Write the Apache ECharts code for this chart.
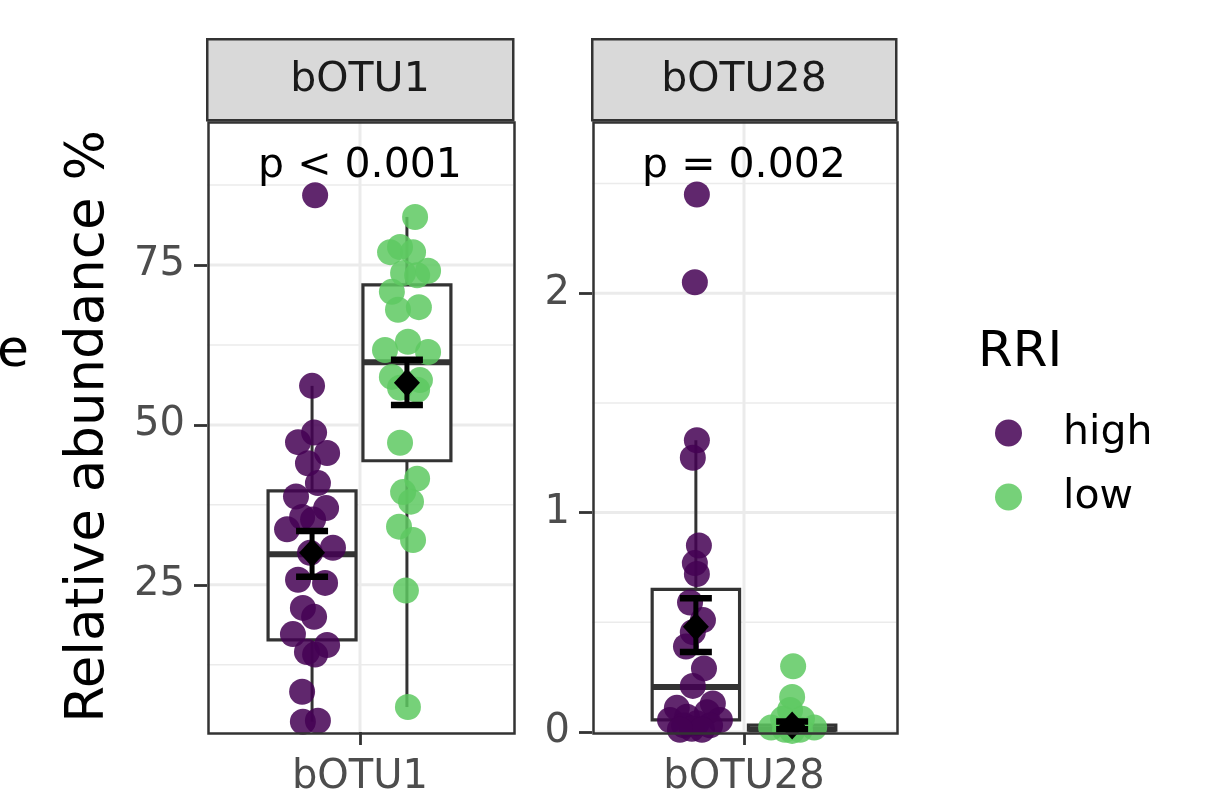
<!DOCTYPE html>
<html>
<head>
<meta charset="utf-8">
<script src="https://cdn.jsdelivr.net/npm/echarts@6.0.0/dist/echarts.min.js"></script>
<style>
  html, body { margin: 0; padding: 0; background: #fff; }
  #chart { width: 1215px; height: 800px; }
</style>
</head>
<body>
<div id="chart"></div>
<script>
/* global echarts */
// facets and labels
const panels = ['bOTU1', 'bOTU28']
const pLabels = ['p < 0.001', 'p = 0.002']
const groups = ['high', 'low']
const yTicks = [[25, 50, 75], [0, 1, 2]]
const yMinor = [[12.5, 37.5, 62.5, 87.5], [0.5, 1.5, 2.5]]
const yRange = [[2, 97.5], [0, 2.785]]

// jittered points: [position on discrete axis (1 = category), value]
const otu1High = [
  [0.824, 85.9], [0.812, 56.1], [0.820, 48.8], [0.757, 47.3], [0.871, 45.6],
  [0.796, 44.0], [0.835, 40.9], [0.749, 38.8], [0.867, 37.0], [0.773, 35.6],
  [0.816, 35.2], [0.714, 33.7], [0.894, 30.8], [0.804, 30.0], [0.757, 25.8],
  [0.863, 25.3], [0.776, 21.4], [0.820, 20.0], [0.737, 17.3], [0.871, 15.6],
  [0.792, 14.5], [0.824, 14.1], [0.773, 8.3], [0.776, 3.6], [0.835, 3.75]
]
const otu1Low = [
  [1.216, 82.5], [1.118, 77.0], [1.157, 77.8], [1.208, 77.0], [1.267, 74.1],
  [1.169, 73.75], [1.224, 73.4], [1.125, 70.8], [1.149, 68.0], [1.231, 68.4],
  [1.098, 61.7], [1.188, 63.0], [1.267, 61.4], [1.125, 57.5], [1.235, 57.0],
  [1.157, 55.8], [1.224, 55.5], [1.157, 47.2], [1.224, 41.6], [1.169, 39.5],
  [1.200, 38.0], [1.153, 34.1], [1.208, 32.0], [1.180, 24.1], [1.188, 5.9]
]
const otu28High = [
  [0.814, 2.45], [0.806, 2.05], [0.814, 1.33], [0.798, 1.25], [0.822, 0.85],
  [0.806, 0.77], [0.814, 0.72], [0.787, 0.59], [0.838, 0.51], [0.798, 0.455],
  [0.771, 0.39], [0.842, 0.29], [0.798, 0.21], [0.735, 0.11], [0.877, 0.13],
  [0.775, 0.07], [0.854, 0.09], [0.708, 0.055], [0.905, 0.055], [0.814, 0.04],
  [0.763, 0.03], [0.866, 0.03], [0.794, 0.015], [0.834, 0.01], [0.747, 0.01]
]
const otu28Low = [
  [1.194, 0.30], [1.190, 0.16], [1.182, 0.10], [1.154, 0.06], [1.229, 0.06],
  [1.107, 0.02], [1.277, 0.02], [1.162, 0.01], [1.221, 0.01], [1.190, 0.005]
]

// box stats: [center, lower whisker, q1, median, q3, upper whisker]
const otu1Box = [[0.812, 3.6, 16.4, 29.8, 39.7, 56.1], [1.184, 5.9, 44.4, 59.8, 71.9, 82.5]]
const otu28Box = [[0.810, 0, 0.055, 0.205, 0.65, 1.33], [1.190, 0, 0.008, 0.012, 0.032, 0.06]]

// mean +- se: [center, mean, lower, upper]
const otu1Mean = [[0.812, 30.0, 26.25, 33.4], [1.184, 56.6, 53.1, 60.2]]
const otu28Mean = [[0.810, 0.48, 0.365, 0.61], [1.190, 0.03, 0.012, 0.048]]

const points = [[otu1High, otu1Low], [otu28High, otu28Low]]
const boxes = [otu1Box, otu28Box]
const means = [otu1Mean, otu28Mean]

const colors = { high: '#440154', low: '#5ec962' }
const FONT = 'DejaVu Sans'
const BOX_W = 0.345
const grids = [
  { left: 207, top: 121, width: 306, height: 611 },
  { left: 592, top: 121, width: 304, height: 611 }
]

const myChart = echarts.init(document.getElementById('chart'))

function gridLineSeries (i) {
  const data = []
  yTicks[i].forEach(v => data.push([v, 0, 0]))
  yMinor[i].forEach(v => data.push([v, 0, 1]))
  data.push([1, 1, 0])
  return {
    type: 'custom',
    xAxisIndex: i,
    yAxisIndex: i,
    z: 1,
    silent: true,
    data: data,
    encode: { x: -1, y: -1 },
    renderItem (params, api) {
      const cs = params.coordSys
      const v = api.value(0)
      const minor = api.value(2) === 1
      let shape
      if (api.value(1) === 0) {
        const y = api.coord([1, v])[1]
        shape = { x1: cs.x, y1: y, x2: cs.x + cs.width, y2: y }
      } else {
        const x = api.coord([v, yRange[i][0]])[0]
        shape = { x1: x, y1: cs.y, x2: x, y2: cs.y + cs.height }
      }
      return {
        type: 'line',
        shape: shape,
        style: { stroke: '#ebebeb', lineWidth: minor ? 1.5 : 3 }
      }
    }
  }
}

function boxSeries (i) {
  return {
    type: 'custom',
    xAxisIndex: i,
    yAxisIndex: i,
    z: 2,
    silent: true,
    data: boxes[i],
    encode: { x: 0, y: [1, 2, 3, 4, 5] },
    renderItem (params, api) {
      const x = api.value(0)
      const cx = api.coord([x, api.value(3)])[0]
      const l = api.coord([x - BOX_W / 2, 0])[0]
      const r = api.coord([x + BOX_W / 2, 0])[0]
      const yy = k => api.coord([x, api.value(k)])[1]
      const line = { stroke: '#333333', lineWidth: 3 }
      return {
        type: 'group',
        children: [
          { type: 'line', shape: { x1: cx, y1: yy(5), x2: cx, y2: yy(4) }, style: line },
          { type: 'line', shape: { x1: cx, y1: yy(2), x2: cx, y2: yy(1) }, style: line },
          { type: 'rect', shape: { x: l, y: yy(4), width: r - l, height: yy(2) - yy(4) }, style: { fill: '#ffffff', stroke: '#333333', lineWidth: 3.2 } },
          { type: 'line', shape: { x1: l, y1: yy(3), x2: r, y2: yy(3) }, style: { stroke: '#333333', lineWidth: 6 } }
        ]
      }
    }
  }
}

function errSeries (i) {
  return {
    type: 'custom',
    xAxisIndex: i,
    yAxisIndex: i,
    z: 4,
    silent: true,
    data: means[i],
    encode: { x: 0, y: [1, 2, 3] },
    renderItem (params, api) {
      const x = api.value(0)
      const lo = api.coord([x, api.value(2)])
      const hi = api.coord([x, api.value(3)])
      const st = { stroke: '#000', lineWidth: 5 }
      const cap = { stroke: '#000', lineWidth: 6.5 }
      return {
        type: 'group',
        children: [
          { type: 'line', shape: { x1: lo[0], y1: lo[1], x2: hi[0], y2: hi[1] }, style: st },
          { type: 'line', shape: { x1: lo[0] - 16, y1: lo[1], x2: lo[0] + 16, y2: lo[1] }, style: cap },
          { type: 'line', shape: { x1: hi[0] - 16, y1: hi[1], x2: hi[0] + 16, y2: hi[1] }, style: cap }
        ]
      }
    }
  }
}

const series = []
panels.forEach((p, i) => {
  series.push(gridLineSeries(i))
  series.push(boxSeries(i))
  groups.forEach((g, k) => {
    series.push({
      name: g,
      type: 'scatter',
      xAxisIndex: i,
      yAxisIndex: i,
      z: 3,
      symbolSize: 26,
      itemStyle: { color: colors[g], opacity: 0.85 },
      data: points[i][k]
    })
  })
  series.push(errSeries(i))
  series.push({
    type: 'scatter',
    xAxisIndex: i,
    yAxisIndex: i,
    z: 5,
    symbol: 'diamond',
    symbolSize: [26, 28],
    itemStyle: { color: '#000', opacity: 1 },
    data: means[i].map(d => [d[0], d[1]])
  })
})

const graphic = []
panels.forEach((p, i) => {
  const g = grids[i]
  graphic.push({ type: 'rect', left: g.left - 1, top: 38, z: 50, shape: { width: g.width, height: 81 }, style: { fill: '#d9d9d9', stroke: '#333333', lineWidth: 2.5 } })
  graphic.push({ type: 'text', x: g.left + g.width / 2, y: 80, z: 51, style: { text: p, font: '41px "DejaVu Sans"', fill: '#1a1a1a', textAlign: 'center', textVerticalAlign: 'middle' } })
  graphic.push({ type: 'rect', left: g.left - 1, top: g.top - 1, z: 50, shape: { width: g.width, height: g.height }, style: { fill: 'none', stroke: '#333333', lineWidth: 2.5 } })
  graphic.push({ type: 'text', x: g.left + g.width / 2, y: 166, z: 51, style: { text: pLabels[i], font: '41px "DejaVu Sans"', fill: '#000', textAlign: 'center', textVerticalAlign: 'middle' } })
})
graphic.push({ type: 'text', x: -3, y: 352, style: { text: 'e', font: '52px "DejaVu Sans"', fill: '#000', textVerticalAlign: 'middle' } })
graphic.push({ type: 'text', x: 978, y: 353, style: { text: 'RRI', font: '50px "DejaVu Sans"', fill: '#000', textVerticalAlign: 'middle' } })

const option = {
  backgroundColor: '#ffffff',
  animation: false,
  textStyle: { fontFamily: FONT },
  grid: grids.map(g => Object.assign({ show: false }, g)),
  legend: {
    data: groups,
    orient: 'vertical',
    left: 990,
    top: 407,
    itemWidth: 27,
    itemHeight: 27,
    itemGap: 22,
    icon: 'circle',
    textStyle: { fontSize: 41, color: '#000', fontFamily: FONT, padding: [0, 0, 0, 36], lineHeight: 42 }
  },
  xAxis: panels.map((p, i) => ({
    type: 'value',
    gridIndex: i,
    min: 0.4,
    max: 1.6,
    axisLine: { show: false },
    splitLine: { show: false },
    axisTick: { show: true, customValues: [1], length: 13, lineStyle: { color: '#333333', width: 2.8 } },
    axisLabel: { customValues: [1], formatter: () => p, fontSize: 40, color: '#4d4d4d', margin: 26, fontFamily: FONT }
  })),
  yAxis: panels.map((p, i) => ({
    type: 'value',
    gridIndex: i,
    min: yRange[i][0],
    max: yRange[i][1],
    name: i === 0 ? 'Relative abundance %' : '',
    nameLocation: 'middle',
    nameGap: 91,
    nameTextStyle: { fontSize: 53, color: '#000', fontFamily: FONT },
    axisLine: { show: false },
    splitLine: { show: false },
    axisTick: { show: true, customValues: yTicks[i], length: 13, lineStyle: { color: '#333333', width: 2.8 } },
    axisLabel: { customValues: yTicks[i], fontSize: 40, color: '#4d4d4d', margin: 22, fontFamily: FONT }
  })),
  graphic: graphic,
  series: series
}

myChart.setOption(option)
window.onresize = myChart.resize
</script>
</body>
</html>
